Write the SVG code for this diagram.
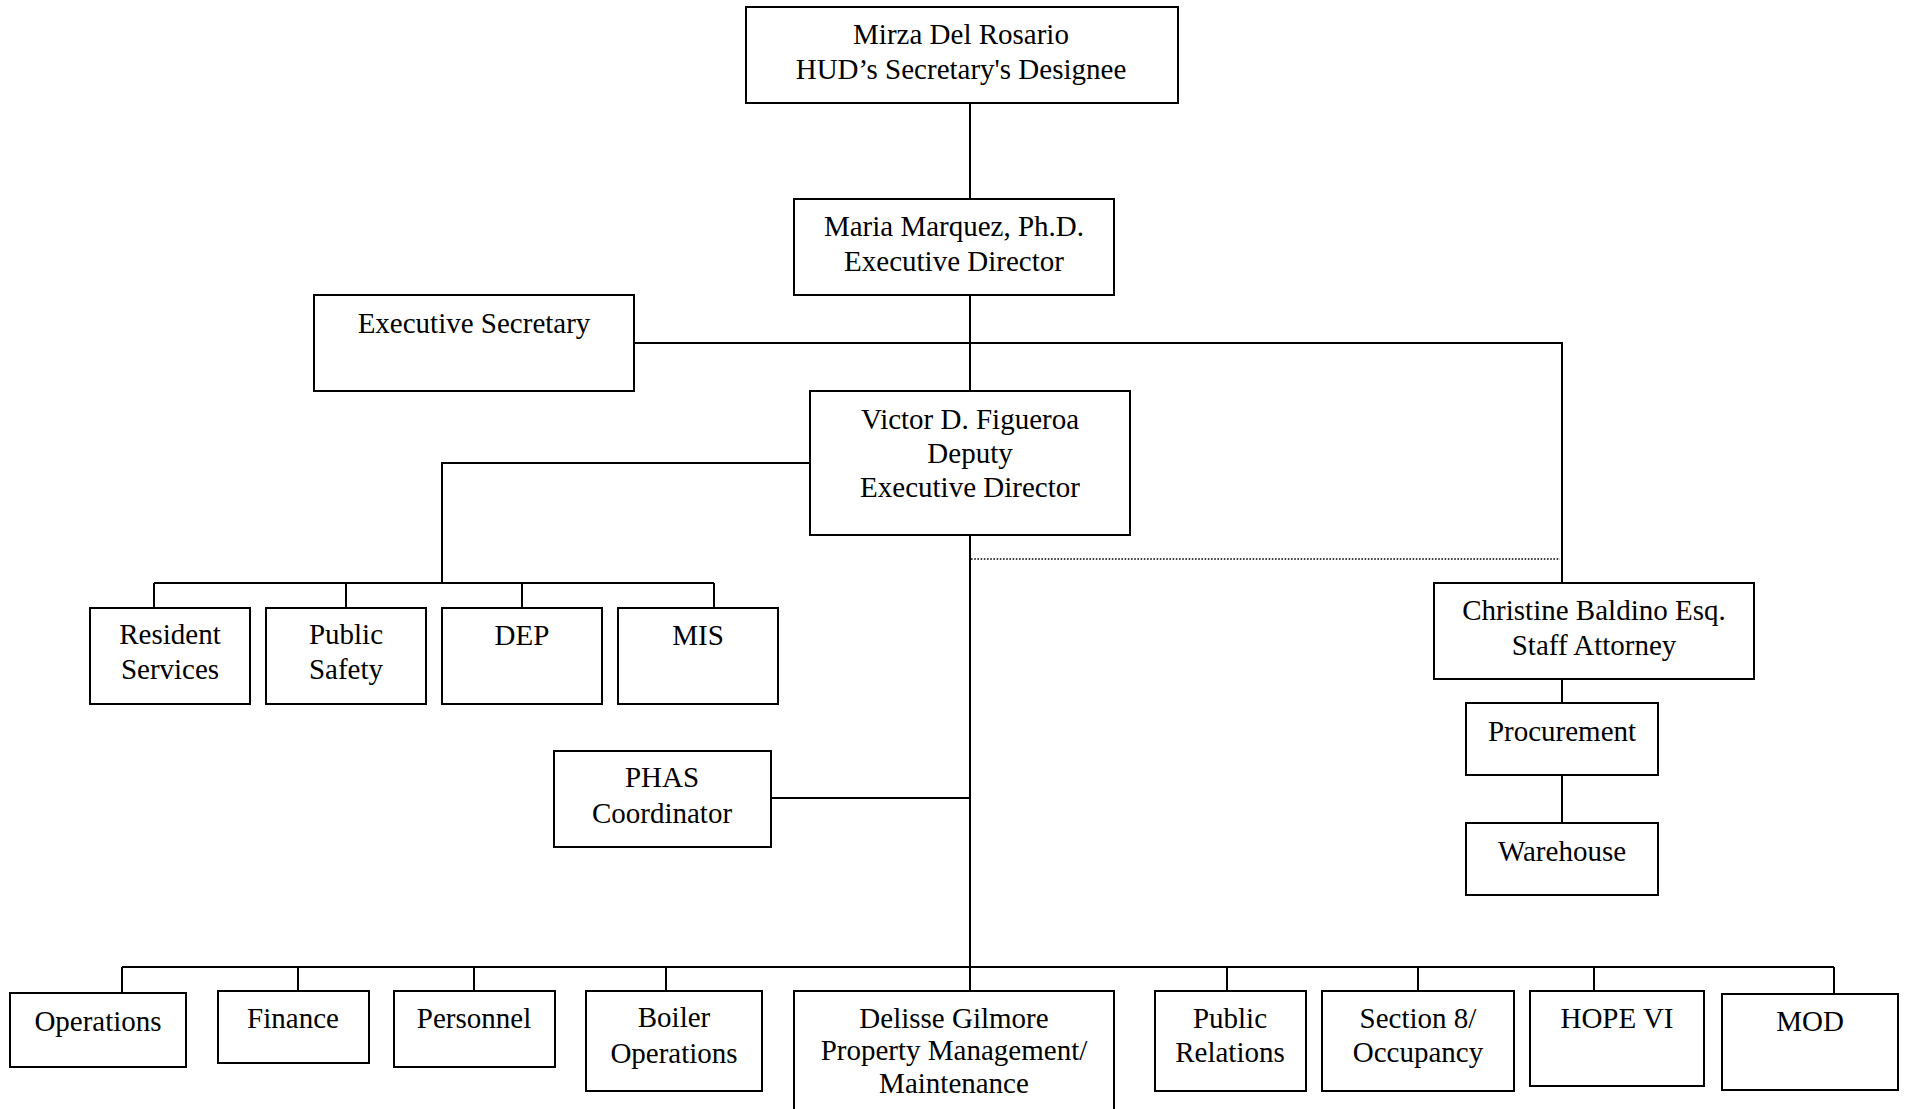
<svg xmlns="http://www.w3.org/2000/svg" width="1906" height="1109" viewBox="0 0 1906 1109">
<style>
.box{fill:#fff;stroke:#000;stroke-width:2}
.ln{fill:none;stroke:#000;stroke-width:2}
.dot{fill:none;stroke:#000;stroke-width:1.6;stroke-dasharray:1.6 1.6}
text{font-family:"Liberation Serif","Times New Roman",serif;font-size:29px;fill:#000;text-anchor:middle}
</style>
<rect width="1906" height="1109" fill="#fff"/>
<g id="connectors">
<path class="ln" d="M970 103V199"/>
<path class="ln" d="M970 295V391"/>
<path class="ln" d="M634 343H1562V583"/>
<path class="ln" d="M810 463H442V583"/>
<path class="ln" d="M154 583H714"/>
<path class="ln" d="M154 583V608M346 583V608M522 583V608M714 583V608"/>
<path class="ln" d="M970 535V991"/>
<path class="ln" d="M771 798H970"/>
<path class="dot" d="M971 559H1560"/>
<path class="ln" d="M1562 679V703M1562 775V823"/>
<path class="ln" d="M122 967H1834"/>
<path class="ln" d="M122 967V993M298 967V991M474 967V991M666 967V991M1227 967V991M1418 967V991M1594 967V991M1834 967V994"/>
</g>
<g id="n-mirza"><rect class="box" x="746" y="7" width="432" height="96"/><text x="961" y="44">Mirza Del Rosario</text><text x="961" y="79">HUD’s Secretary's Designee</text></g>
<g id="n-maria"><rect class="box" x="794" y="199" width="320" height="96"/><text x="954" y="236">Maria Marquez, Ph.D.</text><text x="954" y="271">Executive Director</text></g>
<g id="n-execsec"><rect class="box" x="314" y="295" width="320" height="96"/><text x="474" y="333">Executive Secretary</text></g>
<g id="n-victor"><rect class="box" x="810" y="391" width="320" height="144"/><text x="970" y="429">Victor D. Figueroa</text><text x="970" y="463">Deputy</text><text x="970" y="497">Executive Director</text></g>
<g id="n-resident"><rect class="box" x="90" y="608" width="160" height="96"/><text x="170" y="644">Resident</text><text x="170" y="679">Services</text></g>
<g id="n-safety"><rect class="box" x="266" y="608" width="160" height="96"/><text x="346" y="644">Public</text><text x="346" y="679">Safety</text></g>
<g id="n-dep"><rect class="box" x="442" y="608" width="160" height="96"/><text x="522" y="645">DEP</text></g>
<g id="n-mis"><rect class="box" x="618" y="608" width="160" height="96"/><text x="698" y="645">MIS</text></g>
<g id="n-phas"><rect class="box" x="554" y="751" width="217" height="96"/><text x="662" y="787">PHAS</text><text x="662" y="823">Coordinator</text></g>
<g id="n-christine"><rect class="box" x="1434" y="583" width="320" height="96"/><text x="1594" y="620">Christine Baldino Esq.</text><text x="1594" y="655">Staff Attorney</text></g>
<g id="n-procurement"><rect class="box" x="1466" y="703" width="192" height="72"/><text x="1562" y="741">Procurement</text></g>
<g id="n-warehouse"><rect class="box" x="1466" y="823" width="192" height="72"/><text x="1562" y="861">Warehouse</text></g>
<g id="n-operations"><rect class="box" x="10" y="993" width="176" height="74"/><text x="98" y="1031">Operations</text></g>
<g id="n-finance"><rect class="box" x="218" y="991" width="151" height="72"/><text x="293" y="1028">Finance</text></g>
<g id="n-personnel"><rect class="box" x="394" y="991" width="161" height="76"/><text x="474" y="1028">Personnel</text></g>
<g id="n-boiler"><rect class="box" x="586" y="991" width="176" height="100"/><text x="674" y="1027">Boiler</text><text x="674" y="1063">Operations</text></g>
<g id="n-delisse"><rect class="box" x="794" y="991" width="320" height="140"/><text x="954" y="1028">Delisse Gilmore</text><text x="954" y="1060">Property Management/</text><text x="954" y="1093">Maintenance</text></g>
<g id="n-pr"><rect class="box" x="1155" y="991" width="151" height="100"/><text x="1230" y="1028">Public</text><text x="1230" y="1062">Relations</text></g>
<g id="n-section8"><rect class="box" x="1322" y="991" width="192" height="100"/><text x="1418" y="1028">Section 8/</text><text x="1418" y="1062">Occupancy</text></g>
<g id="n-hope"><rect class="box" x="1530" y="991" width="174" height="95"/><text x="1617" y="1028">HOPE VI</text></g>
<g id="n-mod"><rect class="box" x="1722" y="994" width="176" height="96"/><text x="1810" y="1031">MOD</text></g>
</svg>
